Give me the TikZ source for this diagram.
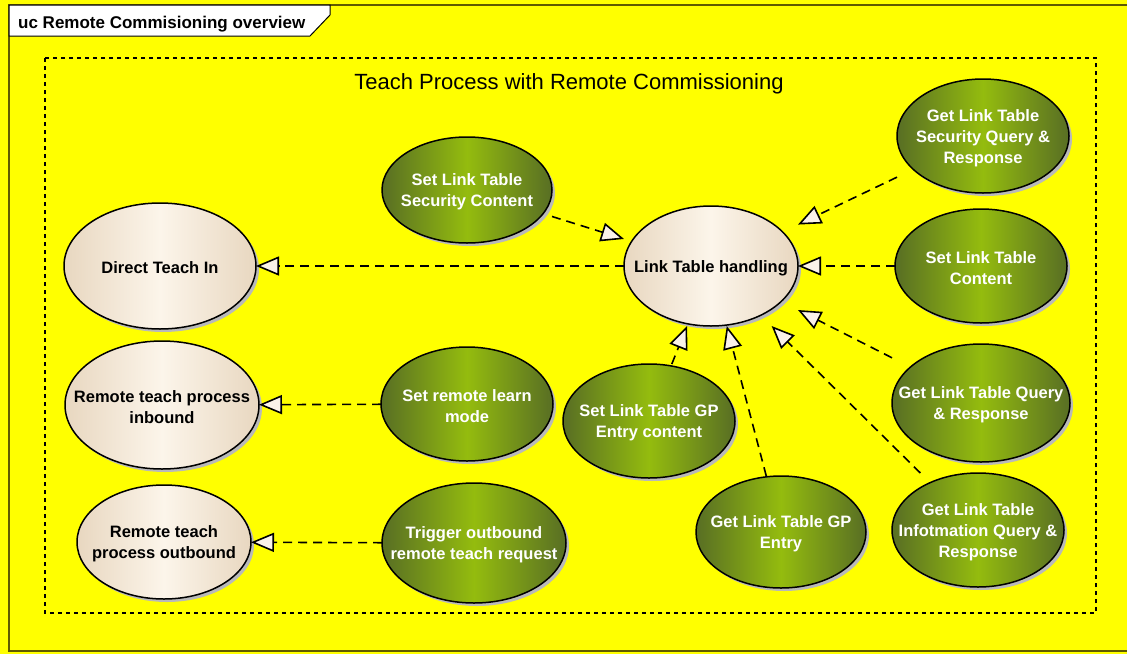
\documentclass[tikz,border=0pt]{standalone}
\usepackage{fontspec}
\setmainfont{Liberation Sans}
\usetikzlibrary{arrows.meta,shapes.geometric,shadows}
\definecolor{bgyellow}{RGB}{255,255,0}
\definecolor{framecol}{RGB}{95,90,0}
\definecolor{gEdge}{RGB}{88,110,36}
\definecolor{gMid}{RGB}{148,188,14}
\definecolor{bEdge}{RGB}{232,215,192}
\definecolor{bMid}{RGB}{252,245,234}
\definecolor{tipfill}{RGB}{250,242,232}
\definecolor{shadowgray}{RGB}{185,185,185}
\newcommand\mkuc[7]{%
  \node[#1, minimum width=2*#5, minimum height=2*#6] (#2) at (#3,#4) {};
  \node[boxonly, minimum width=2*#5, minimum height=2*#6] (#2b) at (#3,#4) {};
  \node[#1txt] (#2t) at (#3,#4+2) {#7};
}
\begin{document}
\begin{tikzpicture}[x=1pt,y=-1pt,
  ucbase/.style={ellipse, draw=black, line width=1.5pt, inner sep=0pt, outer sep=0pt,
    drop shadow={shadow xshift=3pt, shadow yshift=-3pt, fill=shadowgray, opacity=1}},
  greenuc/.style={ucbase, left color=gEdge, right color=gEdge, middle color=gMid},
  beigeuc/.style={ucbase, left color=bEdge, right color=bEdge, middle color=bMid},
  greenuctxt/.style={text=white, align=center, inner sep=0pt, font=\fontsize{16.5}{21}\selectfont\bfseries},
  beigeuctxt/.style={text=black, align=center, inner sep=0pt, font=\fontsize{16.5}{21}\selectfont\bfseries},
  boxonly/.style={rectangle, inner sep=0pt, outer sep=0pt, draw=none},
  conn/.style={line width=1.6pt, dash pattern=on 9pt off 6pt,
    -{Triangle[length=23pt, width=19pt, fill=tipfill, line join=miter]}}
]
\useasboundingbox (0,0) rectangle (1127,654);
\fill[bgyellow] (0,0) rectangle (1127,654);
% outer frame
\draw[framecol, line width=2pt] (1127,5) -- (9,5) -- (9,651) -- (1127,651);
% title tab
\draw[fill=white, line width=1pt] (9,5) -- (330,5) -- (330,15) -- (310,36) -- (9,36) -- cycle;
\node[anchor=base west, inner sep=0pt, font=\fontsize{17}{20}\selectfont\bfseries] (tabtitle) at (18,28) {uc Remote Commisioning overview};
% boundary
\draw[line width=1.4pt, dash pattern=on 4pt off 4pt] (45,58) rectangle (1096,613);
\node[inner sep=0pt, font=\fontsize{22}{26}\selectfont] (boundtitle) at (569,84) {Teach Process with Remote Commissioning};
% use cases
\mkuc{beigeuc}{direct}{160}{266}{96}{63}{Direct Teach In}
\mkuc{beigeuc}{inbound}{162}{405}{97}{64}{Remote teach process\\inbound}
\mkuc{beigeuc}{outbound}{164}{542}{87}{57}{Remote teach\\process outbound}
\mkuc{beigeuc}{link}{711}{266}{87}{60}{Link Table handling}
\mkuc{greenuc}{secc}{467}{190}{85}{53}{Set Link Table\\Security Content}
\mkuc{greenuc}{secq}{983}{136}{86}{57}{Get Link Table\\Security Query \&\\Response}
\mkuc{greenuc}{setc}{981}{266}{86}{57}{Set Link Table\\Content}
\mkuc{greenuc}{learn}{467}{404}{86}{57}{Set remote learn\\mode}
\mkuc{greenuc}{gpc}{649}{421}{86}{57}{Set Link Table GP\\Entry content}
\mkuc{greenuc}{gpe}{781}{532}{85}{56}{Get Link Table GP\\Entry}
\mkuc{greenuc}{query}{981}{403}{89}{59}{Get Link Table Query\\\& Response}
\mkuc{greenuc}{info}{978}{530}{86}{57}{Get Link Table\\Infotmation Query \&\\Response}
\mkuc{greenuc}{trig}{474}{543}{92}{60}{Trigger outbound\\remote teach request}
% connectors
\draw[conn] (linkb) -- (directb);
\draw[conn] (learnb) -- (inboundb);
\draw[conn] (trigb) -- (outboundb);
\draw[conn] (seccb) -- (linkb);
\draw[conn] (secqb) -- (linkb);
\draw[conn] (setcb) -- (linkb);
\draw[conn] (queryb) -- (linkb);
\draw[conn] (infob) -- (linkb);
\draw[conn] (gpeb) -- (linkb);
\draw[conn] (gpcb) -- (linkb);
\end{tikzpicture}
\end{document}
